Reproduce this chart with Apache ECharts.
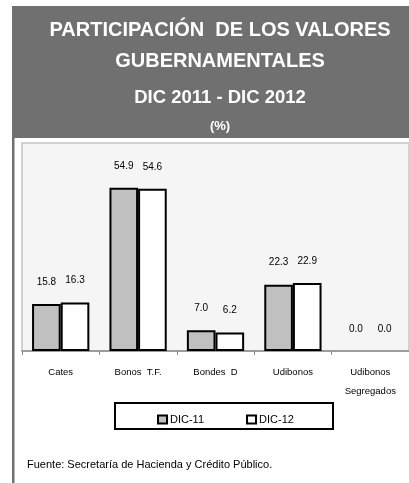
<!DOCTYPE html>
<html>
<head>
<meta charset="utf-8">
<style>
  html, body { margin: 0; padding: 0; background: #fff; }
  #chart { width: 409px; height: 483px; }
</style>
<script src="https://cdn.jsdelivr.net/npm/echarts@6/dist/echarts.min.js"></script>
</head>
<body>
<div id="chart"></div>
<script>
// datos del gráfico
const categories = ['Cates', 'Bonos  T.F.', 'Bondes  D', 'Udibonos', 'Udibonos\nSegregados']
const seriesNames = ['DIC-11', 'DIC-12']
const dic11 = [15.8, 54.9, 7.0, 22.3, 0.0]
const dic12 = [16.3, 54.6, 6.2, 22.9, 0.0]
const titleLines = ['PARTICIPACIÓN  DE LOS VALORES', 'GUBERNAMENTALES', 'DIC 2011 - DIC 2012', '(%)']
const sourceText = 'Fuente: Secretaría de Hacienda y Crédito Público.'

const FONT = '"Liberation Sans", Arial, sans-serif'

const chart = echarts.init(document.getElementById('chart'))

const makeData = (values) =>
  values.map((v) => ({
    value: v,
    // barras en cero no dibujan contorno
    itemStyle: v === 0 ? { borderWidth: 0 } : undefined,
  }))

const makeSeries = (name, values, color) => ({
  name: name,
  type: 'bar',
  barGap: '0%',
  barCategoryGap: '26%',
  data: makeData(values),
  itemStyle: {
    color: color,
    borderColor: '#000',
    borderWidth: 2,
  },
  label: {
    show: true,
    position: 'top',
    distance: 17,
    color: '#000',
    fontSize: 10,
    fontFamily: FONT,
    formatter: (p) => p.value.toFixed(1),
  },
})

const titleTops = [15, 46, 83, 115]
const titleSizes = [20, 20, 18.5, 13]

const option = {
  animation: false,
  backgroundColor: '#fff',
  title: titleLines.map((t, i) => ({
    text: t,
    left: 215,
    top: titleTops[i],
    textAlign: 'center',
    textStyle: {
      color: '#fff',
      fontSize: titleSizes[i],
      fontWeight: 'bold',
      fontFamily: FONT,
    },
  })),
  graphic: [
    {
      type: 'rect',
      z: -10,
      shape: { x: 12, y: 6, width: 397, height: 132 },
      style: { fill: '#707070' },
    },
    {
      type: 'rect',
      z: -10,
      shape: { x: 12, y: 6, width: 2.5, height: 477 },
      style: { fill: '#707070' },
    },
    {
      type: 'rect',
      shape: { x: 115, y: 403, width: 218, height: 26 },
      style: { fill: 'none', stroke: '#000', lineWidth: 2 },
    },
    {
      type: 'text',
      left: 27,
      top: 459,
      style: {
        text: sourceText,
        fill: '#000',
        fontSize: 11,
        fontFamily: FONT,
      },
    },
  ],
  legend: {
    left: 152,
    top: 409,
    itemWidth: 9,
    itemHeight: 8,
    itemGap: 42,
    icon: 'rect',
    data: seriesNames,
    textStyle: {
      color: '#000',
      fontSize: 11,
      fontFamily: FONT,
      padding: [0, 0, 5, -2],
    },
  },
  grid: {
    left: 22,
    right: -4,
    top: 143,
    bottom: 132,
    show: true,
    backgroundColor: '#f5f5f5',
    borderColor: '#c4c4c4',
    borderWidth: 1.5,
  },
  xAxis: {
    type: 'category',
    data: categories,
    axisLine: { lineStyle: { color: '#8a8a8a', width: 1.5 } },
    axisTick: { show: true, length: 4, lineStyle: { color: '#8a8a8a' } },
    axisLabel: {
      color: '#000',
      fontSize: 9.5,
      fontFamily: FONT,
      margin: 12,
      lineHeight: 19,
      interval: 0,
    },
  },
  yAxis: {
    type: 'value',
    min: 0,
    max: 70,
    show: false,
    splitLine: { show: false },
  },
  series: [
    makeSeries(seriesNames[0], dic11, '#c0c0c0'),
    makeSeries(seriesNames[1], dic12, '#ffffff'),
  ],
}

chart.setOption(option)
</script>
</body>
</html>
